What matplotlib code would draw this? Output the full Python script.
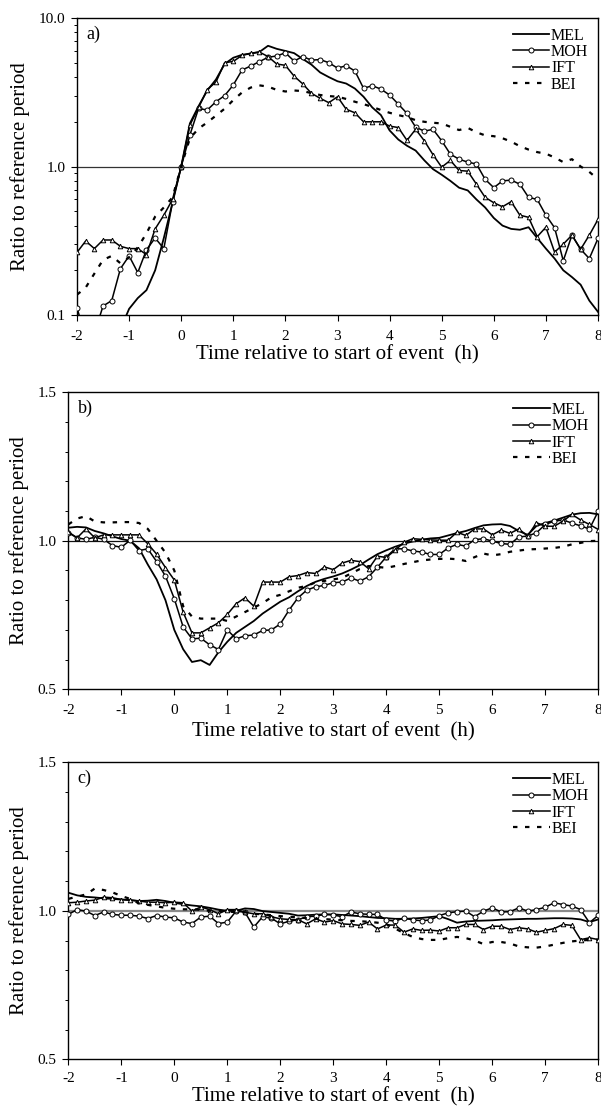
import numpy as np
import matplotlib
matplotlib.use("Agg")
import matplotlib.pyplot as plt
from matplotlib.ticker import LogLocator, NullFormatter, MultipleLocator

plt.rcParams['font.family'] = ['Liberation Serif', 'DejaVu Serif']

# time axis: 10-minute steps from -2 h to 8 h
time_h = np.linspace(-2, 8, 61)
series_names = ["MEL", "MOH", "IFT", "BEI"]
x_ticks = [-2, -1, 0, 1, 2, 3, 4, 5, 6, 7, 8]
xlabel = "Time relative to start of event  (h)"
ylabel = "Ratio to reference period"

# ---------------- panel a (log scale) ----------------
a_MEL = [0.05, 0.05, 0.05, 0.05, 0.05, 0.08, 0.11, 0.13, 0.147, 0.20,
         0.33, 0.57, 1.0, 1.95, 2.55, 3.25, 3.85, 4.9, 5.4, 5.65,
         5.75, 5.9, 6.5, 6.2, 6.0, 5.8, 5.3, 4.85, 4.3, 4.0,
         3.75, 3.62, 3.35, 2.95, 2.5, 2.22, 1.75, 1.52, 1.38, 1.28,
         1.1, 0.96, 0.88, 0.8, 0.72, 0.69, 0.6, 0.53, 0.45, 0.40,
         0.38, 0.375, 0.39, 0.33, 0.28, 0.24, 0.2, 0.18, 0.16, 0.125, 0.105]
a_MOH = [0.112, 0.07, 0.075, 0.115, 0.125, 0.205, 0.25, 0.193, 0.275, 0.33,
         0.28, 0.575, 1.0, 1.63, 2.46, 2.4, 2.73, 3.0, 3.54, 4.46,
         4.75, 5.08, 5.44, 5.55, 5.83, 5.13, 5.5, 5.2, 5.25, 5.0,
         4.6, 4.77, 4.4, 3.36, 3.5, 3.32, 3.03, 2.63, 2.28, 1.84,
         1.73, 1.78, 1.49, 1.21, 1.12, 1.07, 1.04, 0.82, 0.72, 0.80,
         0.81, 0.76, 0.62, 0.60, 0.47, 0.387, 0.232, 0.345, 0.277, 0.24, 0.328]
a_IFT = [0.264, 0.315, 0.28, 0.32, 0.32, 0.29, 0.28, 0.28, 0.255, 0.38,
         0.47, 0.60, 1.0, 1.9, 2.5, 3.3, 3.7, 5.0, 5.1, 5.6,
         5.8, 5.9, 5.5, 4.9, 4.8, 4.06, 3.6, 3.11, 2.88, 2.69,
         2.95, 2.43, 2.30, 2.0, 2.0, 2.0, 1.87, 1.83, 1.5, 1.78,
         1.49, 1.2, 0.99, 1.1, 0.94, 0.93, 0.76, 0.62, 0.57, 0.536,
         0.58, 0.47, 0.455, 0.337, 0.39, 0.265, 0.30, 0.345, 0.277, 0.345, 0.44]
a_BEI = [0.137, 0.153, 0.19, 0.235, 0.25, 0.223, 0.245, 0.285, 0.355, 0.46,
         0.53, 0.62, 1.0, 1.55, 1.8, 1.98, 2.2, 2.45, 2.8, 3.15,
         3.4, 3.52, 3.45, 3.28, 3.2, 3.25, 3.22, 3.12, 3.03, 2.98,
         2.95, 2.85, 2.73, 2.63, 2.52, 2.4, 2.3, 2.22, 2.15, 2.05,
         2.0, 1.97, 1.95, 1.85, 1.76, 1.82, 1.7, 1.62, 1.6, 1.55,
         1.47, 1.37, 1.3, 1.25, 1.22, 1.15, 1.07, 1.12, 1.0, 0.92, 0.82]

# ---------------- panel b ----------------
b_MEL = [1.044, 1.047, 1.045, 1.033, 1.025, 1.015, 1.006, 1.0, 0.975, 0.92,
         0.87, 0.80, 0.70, 0.635, 0.592, 0.598, 0.582, 0.625, 0.66, 0.69,
         0.71, 0.73, 0.755, 0.775, 0.795, 0.81, 0.83, 0.848, 0.862, 0.872,
         0.88, 0.89, 0.903, 0.918, 0.937, 0.955, 0.968, 0.98, 0.99, 0.998,
         1.004, 1.008, 1.01, 1.018, 1.026, 1.033, 1.043, 1.052, 1.055, 1.056,
         1.05, 1.033, 1.02, 1.05, 1.06, 1.068, 1.078, 1.088, 1.093, 1.094, 1.089]
b_MOH = [1.027, 1.01, 1.005, 1.012, 1.005, 0.984, 0.978, 1.002, 0.967, 0.973,
         0.93, 0.881, 0.805, 0.71, 0.67, 0.672, 0.65, 0.634, 0.70, 0.67,
         0.68, 0.683, 0.698, 0.70, 0.72, 0.767, 0.808, 0.834, 0.845, 0.85,
         0.859, 0.861, 0.875, 0.864, 0.879, 0.911, 0.946, 0.973, 0.973, 0.966,
         0.962, 0.954, 0.954, 0.976, 0.988, 0.982, 1.004, 1.007, 0.999, 0.991,
         0.988, 1.013, 1.016, 1.027, 1.055, 1.066, 1.07, 1.06, 1.05, 1.04, 1.10]
b_IFT = [1.03, 1.01, 1.04, 1.01, 1.02, 1.02, 1.02, 1.02, 1.02, 0.99,
         0.955, 0.91, 0.868, 0.76, 0.69, 0.69, 0.707, 0.724, 0.752, 0.788,
         0.808, 0.78, 0.861, 0.861, 0.861, 0.879, 0.883, 0.893, 0.89, 0.912,
         0.903, 0.925, 0.934, 0.93, 0.906, 0.948, 0.944, 0.968, 0.995, 1.007,
         1.005, 1.003, 1.002, 1.002, 1.029, 1.018, 1.04, 1.04, 1.02, 1.036,
         1.025, 1.04, 1.016, 1.061, 1.049, 1.049, 1.066, 1.089, 1.07, 1.055, 1.038]
b_BEI = [1.055, 1.075, 1.083, 1.065, 1.062, 1.062, 1.063, 1.063, 1.06, 1.04,
         1.0, 0.96, 0.9, 0.78, 0.745, 0.738, 0.738, 0.738, 0.73, 0.745,
         0.76, 0.775, 0.79, 0.81, 0.818, 0.83, 0.842, 0.848, 0.86, 0.865,
         0.87, 0.875, 0.89, 0.905, 0.915, 0.912, 0.909, 0.915, 0.922, 0.928,
         0.934, 0.937, 0.939, 0.94, 0.938, 0.932, 0.945, 0.957, 0.951, 0.955,
         0.963, 0.967, 0.971, 0.972, 0.974, 0.976, 0.98, 0.988, 0.993, 0.999, 1.0]

# ---------------- panel c ----------------
c_MEL = [1.061, 1.052, 1.047, 1.045, 1.042, 1.04, 1.038, 1.036, 1.033, 1.034,
         1.037, 1.033, 1.027, 1.022, 1.018, 1.015, 1.01, 1.004, 1.0, 1.0,
         1.008, 1.006, 0.999, 0.996, 0.993, 0.99, 0.984, 0.985, 0.987, 0.988,
         0.988, 0.986, 0.984, 0.982, 0.979, 0.976, 0.975, 0.973, 0.973, 0.974,
         0.976, 0.979, 0.982, 0.972, 0.96, 0.964, 0.966, 0.967, 0.968, 0.97,
         0.971, 0.972, 0.973, 0.973, 0.974, 0.975, 0.975, 0.974, 0.971, 0.962, 0.971]
c_MOH = [0.988, 1.004, 0.999, 0.984, 0.996, 0.988, 0.985, 0.985, 0.982, 0.974,
         0.984, 0.979, 0.976, 0.962, 0.957, 0.979, 0.982, 0.957, 0.962, 0.999,
         0.995, 0.945, 0.98, 0.975, 0.956, 0.965, 0.97, 0.98, 0.982, 0.988,
         0.986, 0.98, 0.996, 0.99, 0.988, 0.988, 0.969, 0.965, 0.976, 0.969,
         0.967, 0.969, 0.984, 0.993, 0.997, 0.999, 0.98, 0.999, 1.01, 0.996,
         0.997, 1.01, 0.999, 1.004, 1.012, 1.027, 1.021, 1.016, 1.004, 0.96, 0.985]
c_IFT = [1.027, 1.029, 1.033, 1.036, 1.046, 1.044, 1.038, 1.036, 1.033, 1.029,
         1.029, 1.027, 1.029, 1.027, 0.999, 1.013, 1.004, 0.99, 1.004, 1.004,
         0.995, 0.99, 0.99, 0.98, 0.973, 0.971, 0.97, 0.956, 0.973, 0.962,
         0.967, 0.956, 0.954, 0.951, 0.962, 0.939, 0.952, 0.952, 0.928, 0.939,
         0.934, 0.935, 0.932, 0.943, 0.943, 0.954, 0.954, 0.937, 0.948, 0.948,
         0.937, 0.943, 0.939, 0.928, 0.934, 0.94, 0.954, 0.951, 0.903, 0.909, 0.903]
c_BEI = [1.04, 1.048, 1.055, 1.075, 1.07, 1.062, 1.05, 1.04, 1.025, 1.02,
         1.015, 1.01, 1.007, 1.005, 1.005, 1.003, 1.0, 1.0, 0.998, 0.995,
         0.995, 0.99, 0.988, 0.985, 0.982, 0.98, 0.978, 0.975, 0.973, 0.972,
         0.97, 0.968, 0.966, 0.965, 0.963, 0.96, 0.955, 0.94, 0.925, 0.912,
         0.905, 0.902, 0.902, 0.908, 0.912, 0.908, 0.9, 0.888, 0.895, 0.895,
         0.89, 0.88, 0.877, 0.876, 0.88, 0.886, 0.892, 0.897, 0.9, 0.902, 0.903]

panels = [
    ("a)", [a_MEL, a_MOH, a_IFT, a_BEI]),
    ("b)", [b_MEL, b_MOH, b_IFT, b_BEI]),
    ("c)", [c_MEL, c_MOH, c_IFT, c_BEI]),
]

W, H = 601, 1109
fig = plt.figure(figsize=(W / 100, H / 100), dpi=100)

def px_axes(left, top, right, bottom):
    return fig.add_axes([left / W, 1 - bottom / H, (right - left) / W, (bottom - top) / H])

axes = [px_axes(77, 18, 598, 315),
        px_axes(68.3, 392.3, 598.3, 689.3),
        px_axes(68.3, 762.3, 598.3, 1059.3)]

styles = {
    "MEL": dict(color="black", lw=1.3, ls="-"),
    "MOH": dict(color="black", lw=1.1, ls="-", marker="o", ms=3.6,
                mfc="white", mec="black", mew=0.7),
    "IFT": dict(color="black", lw=1.1, ls="-", marker="^", ms=3.3,
                mfc="white", mec="black", mew=0.7),
    "BEI": dict(color="black", lw=1.6, ls=(0, (2.0, 3.4))),
}

xlabel_pads = [2, 4, 1]

for i, (ax, (tag, data)) in enumerate(zip(axes, panels)):
    if i == 0:
        ax.set_yscale("log")
        ax.set_ylim(0.1, 10)
        ax.axhline(1.0, color="#333333", lw=0.9, zorder=1)
        ax.set_yticks([0.1, 1, 10])
        ax.set_yticklabels(["0.1", "1.0", "10.0"])
        ax.yaxis.set_minor_locator(LogLocator(base=10, subs=np.arange(2, 10)))
        ax.yaxis.set_minor_formatter(NullFormatter())
    else:
        ax.set_ylim(0.5, 1.5)
        lc = "#111111" if i == 1 else "#8a8a8a"
        lw = 0.9 if i == 1 else 1.6
        ax.axhline(1.0, color=lc, lw=lw, zorder=1)
        ax.set_yticks([0.5, 1.0, 1.5])
        ax.set_yticklabels(["0.5", "1.0", "1.5"])
        ax.yaxis.set_minor_locator(MultipleLocator(0.1))
    for name, vals in zip(series_names, data):
        ax.plot(time_h, vals, label=name, zorder=3, **styles[name])
    ax.set_xlim(-2, 8)
    ax.set_xticks(x_ticks)
    ax.set_xticklabels([str(t) for t in x_ticks])
    ax.tick_params(axis="both", which="major", direction="out", length=4.5, width=0.8,
                   labelsize=11, pad=4, top=False, right=False)
    ax.tick_params(axis="x", which="major", pad=6 if i < 2 else 5)
    ax.tick_params(axis="y", which="minor", direction="out", length=2.5, width=0.7)
    for sp in ax.spines.values():
        sp.set_linewidth(1.0)
    ax.set_xlabel(xlabel, fontsize=15, labelpad=xlabel_pads[i])
    ax.set_ylabel(ylabel, fontsize=15, labelpad=6)
    ax.text(0.018, 0.975, tag, transform=ax.transAxes, ha="left", va="top", fontsize=13)
    ax.legend(loc="upper right", frameon=False, fontsize=11.5,
              handlelength=2.3, handletextpad=0.1, labelspacing=0.02,
              borderaxespad=0.3, borderpad=0.3)

fig.savefig("out.png", dpi=100)
